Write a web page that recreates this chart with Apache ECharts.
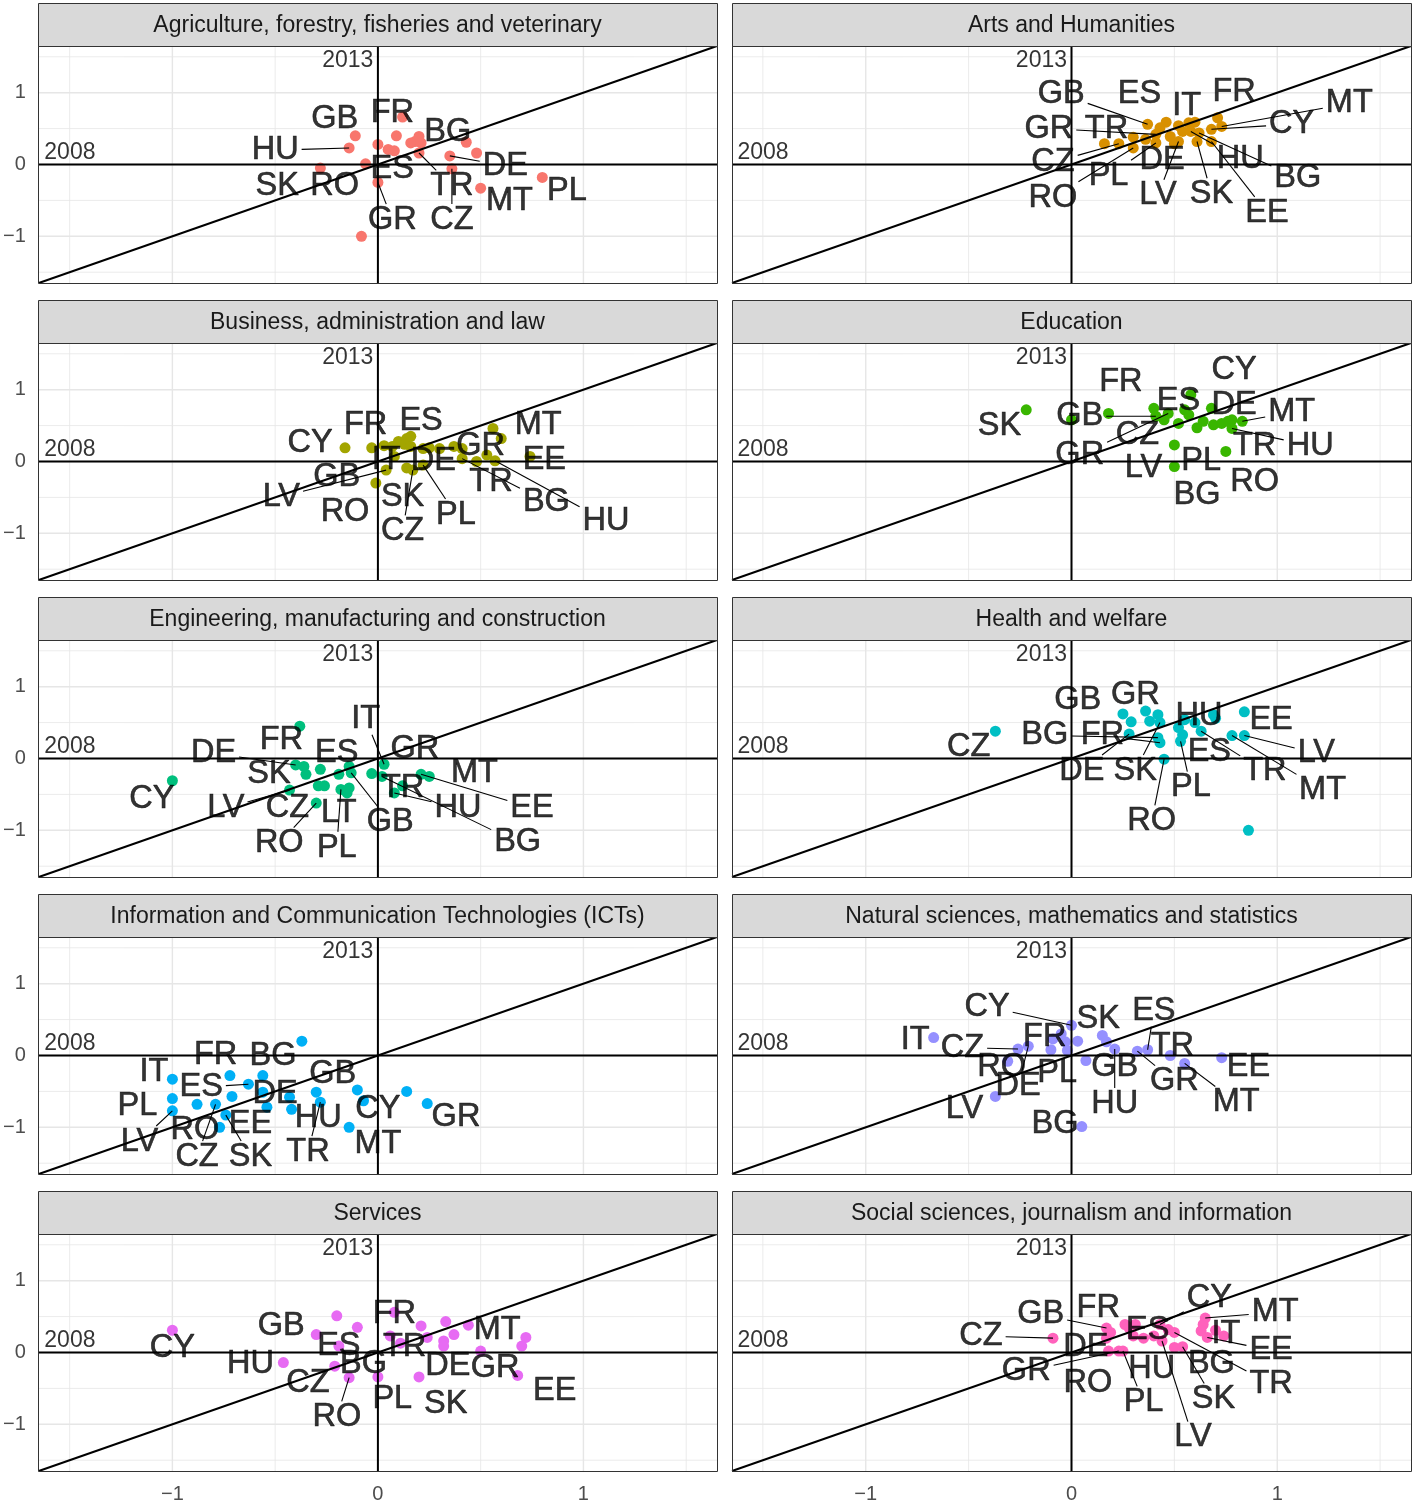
<!DOCTYPE html>
<html><head><meta charset="utf-8">
<script src="https://cdn.jsdelivr.net/npm/echarts@6/dist/echarts.min.js"></script>
<style>html,body{margin:0;padding:0;background:#fff}#c{width:1414px;height:1504px}</style>
</head><body><div id="c"></div>
<script>
// ---------------- DATA ----------------
const panelTitles = [
  "Agriculture, forestry, fisheries and veterinary",
  "Arts and Humanities",
  "Business, administration and law",
  "Education",
  "Engineering, manufacturing and construction",
  "Health and welfare",
  "Information and Communication Technologies (ICTs)",
  "Natural sciences, mathematics and statistics",
  "Services",
  "Social sciences, journalism and information"
];
const tickValues = [-1, 0, 1];
const axisLabels = ["2008", "2013"];

// points: [value 2008 (x), value 2013 (y), country code ('' = unlabelled)]
const agriculture = [[0.12,0.66,'FR'],[-0.11,0.40,'GB'],[0.09,0.40,''],[0.20,0.39,''],[0.43,0.31,'BG'],[0.18,0.32,''],[0.16,0.30,''],[0.21,0.30,''],[-0.14,0.23,'HU'],[0.00,0.28,''],[0.05,0.21,'ES'],[0.08,0.19,''],[0.20,0.16,'TR'],[0.48,0.16,''],[0.35,0.12,'DE'],[-0.28,-0.05,'SK'],[-0.06,0.01,'RO'],[0.00,-0.25,'GR'],[0.36,-0.06,'CZ'],[0.50,-0.33,'MT'],[0.80,-0.18,'PL'],[-0.08,-1.00,'']];
const arts = [[0.37,0.56,'GB'],[0.46,0.59,'ES'],[0.57,0.58,'IT'],[0.71,0.65,'FR'],[0.73,0.53,'MT'],[0.68,0.49,'CY'],[0.41,0.42,'GR'],[0.36,0.35,'TR'],[0.23,0.29,'CZ'],[0.50,0.29,'DE'],[0.58,0.46,'HU'],[0.41,0.30,'PL'],[0.62,0.44,'BG'],[0.30,0.23,'RO'],[0.52,0.32,'LV'],[0.61,0.32,'SK'],[0.68,0.32,'EE'],[0.16,0.29,''],[0.30,0.38,''],[0.43,0.51,''],[0.52,0.54,''],[0.60,0.59,''],[0.54,0.46,''],[0.48,0.39,'']];
const business = [[-0.16,0.19,'CY'],[-0.03,0.19,'GB'],[0.03,0.22,'FR'],[0.08,0.07,'IT'],[0.14,0.32,'ES'],[0.16,0.35,''],[0.10,0.28,''],[0.13,0.24,''],[0.16,0.21,''],[0.07,0.21,''],[0.04,-0.12,'LV'],[-0.01,-0.30,'RO'],[0.14,-0.09,'SK'],[0.17,-0.12,'CZ'],[0.22,-0.05,'PL'],[0.25,0.19,'DE'],[0.22,0.18,''],[0.30,0.18,''],[0.37,0.21,'GR'],[0.41,0.18,''],[0.48,0.00,'TR'],[0.41,0.04,'BG'],[0.57,0.01,'HU'],[0.56,0.46,'MT'],[0.60,0.32,''],[0.74,0.07,'EE'],[0.53,0.09,'']];
const education = [[-0.22,0.72,'SK'],[0.18,0.67,'FR'],[0.00,0.58,''],[0.40,0.74,''],[0.41,0.63,'GB'],[0.45,0.58,'CZ'],[0.47,0.67,'GR'],[0.52,0.53,''],[0.55,0.72,'ES'],[0.58,0.93,'CY'],[0.57,0.65,''],[0.61,0.47,'PL'],[0.64,0.56,''],[0.68,0.74,'DE'],[0.69,0.51,''],[0.73,0.53,''],[0.76,0.56,'TR'],[0.78,0.58,''],[0.78,0.46,'HU'],[0.83,0.56,'MT'],[0.50,0.23,'LV'],[0.50,-0.07,'BG'],[0.75,0.14,'RO']];
const engineering = [[-1.00,-0.31,'CY'],[-0.38,0.45,'FR'],[-0.40,-0.09,'DE'],[-0.36,-0.11,''],[-0.35,-0.22,'SK'],[-0.28,-0.15,''],[-0.29,-0.38,'CZ'],[-0.26,-0.38,''],[-0.30,-0.62,'RO'],[-0.43,-0.44,'LV'],[-0.19,-0.22,'ES'],[-0.18,-0.43,'PL'],[-0.15,-0.48,'LT'],[-0.14,-0.41,''],[-0.14,-0.11,''],[-0.13,-0.20,'GB'],[-0.03,-0.21,'GR'],[0.03,-0.08,'IT'],[0.02,-0.25,'BG'],[0.12,-0.38,'TR'],[0.08,-0.48,'HU'],[0.21,-0.22,'EE'],[0.25,-0.25,'MT']];
const health = [[-0.37,0.38,'CZ'],[0.25,0.62,'GB'],[0.29,0.51,''],[0.28,0.34,'DE'],[0.36,0.66,'GR'],[0.38,0.52,''],[0.42,0.61,''],[0.43,0.50,'SK'],[0.42,0.29,'BG'],[0.43,0.22,'FR'],[0.45,-0.01,'RO'],[0.52,0.43,''],[0.54,0.33,'ES'],[0.53,0.24,'PL'],[0.55,0.54,'HU'],[0.60,0.50,''],[0.63,0.38,'TR'],[0.69,0.61,''],[0.70,0.56,''],[0.78,0.32,'MT'],[0.84,0.65,'EE'],[0.84,0.32,'LV'],[0.86,-1.00,'']];
const ict = [[-0.37,0.20,''],[-1.00,-0.33,'IT'],[-1.00,-0.60,'PL'],[-1.00,-0.77,'LV'],[-0.88,-0.68,'RO'],[-0.79,-0.68,'CZ'],[-0.77,-1.00,''],[-0.74,-0.83,'SK'],[-0.72,-0.28,'FR'],[-0.71,-0.57,''],[-0.63,-0.40,'ES'],[-0.56,-0.28,'BG'],[-0.56,-0.51,''],[-0.54,-0.72,'EE'],[-0.43,-0.58,'DE'],[-0.42,-0.75,''],[-0.30,-0.51,'HU'],[-0.28,-0.65,'TR'],[-0.14,-1.00,'MT'],[-0.10,-0.48,'GB'],[-0.07,-0.63,'CY'],[0.14,-0.50,''],[0.24,-0.67,'GR']];
const natural = [[-0.67,0.25,'IT'],[-0.26,0.09,'CZ'],[-0.21,0.13,'DE'],[-0.31,-0.08,'RO'],[-0.37,-0.57,'LV'],[-0.09,0.23,'FR'],[-0.05,0.30,''],[0.00,0.42,'CY'],[-0.03,0.19,''],[-0.10,0.08,''],[-0.02,0.07,''],[0.03,0.20,''],[0.07,-0.07,'PL'],[0.05,-0.99,'BG'],[0.15,0.28,'SK'],[0.17,0.19,'GB'],[0.21,0.09,'HU'],[0.32,0.06,'GR'],[0.37,0.08,'ES'],[0.48,0.00,'TR'],[0.55,-0.11,'MT'],[0.73,-0.03,'EE']];
const services = [[-1.00,0.31,'CY'],[-0.46,-0.14,'HU'],[-0.30,0.25,'GB'],[-0.20,0.51,''],[-0.10,0.35,''],[-0.19,0.09,'ES'],[-0.21,-0.19,'CZ'],[-0.14,-0.35,'RO'],[0.00,-0.34,'PL'],[0.06,0.23,'BG'],[0.08,0.56,'FR'],[0.11,0.13,'TR'],[0.20,-0.34,'SK'],[0.21,0.37,''],[0.24,0.21,''],[0.32,0.16,''],[0.32,0.09,'DE'],[0.33,0.43,''],[0.37,0.25,''],[0.44,0.38,'MT'],[0.50,0.02,'GR'],[0.68,-0.32,'EE'],[0.70,0.09,''],[0.72,0.21,'']];
const social = [[-0.09,0.20,'CZ'],[0.17,0.34,'GB'],[0.19,0.28,''],[0.17,0.20,'DE'],[0.18,0.02,'RO'],[0.23,0.02,'GR'],[0.25,0.02,'PL'],[0.26,0.39,'FR'],[0.28,0.34,''],[0.31,0.39,''],[0.30,0.23,''],[0.35,0.20,'ES'],[0.40,0.23,''],[0.43,0.39,'CY'],[0.47,0.32,''],[0.50,0.28,'TR'],[0.44,0.16,'LV'],[0.50,0.07,'HU'],[0.54,0.08,'SK'],[0.64,0.39,''],[0.65,0.48,'MT'],[0.63,0.30,''],[0.66,0.21,'EE'],[0.70,0.31,'IT'],[0.74,0.23,'BG']];

// where each repelled label sits, in data units: [code, x, y]
const agricultureLabels = [['GB',-0.21,0.63],['FR',0.07,0.72],['BG',0.34,0.45],['HU',-0.50,0.20],['ES',0.07,-0.07],['DE',0.62,-0.02],['SK',-0.49,-0.30],['RO',-0.21,-0.30],['TR',0.36,-0.30],['MT',0.64,-0.51],['PL',0.92,-0.37],['GR',0.07,-0.77],['CZ',0.36,-0.77]];
const artsLabels = [['GB',-0.05,0.98],['ES',0.33,0.98],['IT',0.56,0.81],['FR',0.79,1.01],['MT',1.35,0.85],['GR',-0.11,0.50],['TR',0.17,0.50],['CY',1.07,0.56],['CZ',-0.09,0.03],['DE',0.44,0.06],['HU',0.82,0.07],['PL',0.18,-0.16],['BG',1.10,-0.19],['RO',-0.09,-0.46],['LV',0.42,-0.43],['SK',0.68,-0.41],['EE',0.95,-0.67]];
const businessLabels = [['FR',-0.06,0.51],['ES',0.21,0.57],['CY',-0.33,0.26],['MT',0.78,0.51],['GR',0.50,0.22],['IT',0.04,0.02],['DE',0.27,0.00],['EE',0.81,0.02],['GB',-0.20,-0.21],['LV',-0.47,-0.49],['TR',0.55,-0.29],['SK',0.12,-0.49],['RO',-0.16,-0.70],['BG',0.82,-0.56],['PL',0.38,-0.74],['HU',1.11,-0.83],['CZ',0.12,-0.97]];
const educationLabels = [['CY',0.79,1.27],['FR',0.24,1.10],['ES',0.52,0.84],['DE',0.79,0.79],['MT',1.07,0.69],['SK',-0.35,0.49],['GB',0.04,0.63],['CZ',0.32,0.37],['TR',0.89,0.22],['HU',1.16,0.22],['GR',0.04,0.09],['LV',0.35,-0.09],['PL',0.63,0.00],['RO',0.89,-0.28],['BG',0.61,-0.46]];
const engineeringLabels = [['IT',-0.06,0.55],['FR',-0.47,0.26],['DE',-0.80,0.07],['ES',-0.20,0.07],['GR',0.18,0.13],['SK',-0.53,-0.22],['MT',0.47,-0.20],['CY',-1.10,-0.56],['LV',-0.74,-0.69],['CZ',-0.44,-0.69],['LT',-0.19,-0.76],['TR',0.12,-0.41],['HU',0.39,-0.69],['EE',0.75,-0.69],['GB',0.06,-0.89],['RO',-0.48,-1.18],['PL',-0.20,-1.24],['BG',0.68,-1.17]];
const healthLabels = [['GB',0.03,0.82],['GR',0.31,0.88],['HU',0.62,0.59],['EE',0.97,0.54],['CZ',-0.50,0.16],['BG',-0.13,0.32],['FR',0.15,0.32],['LV',1.19,0.07],['DE',0.05,-0.17],['SK',0.31,-0.17],['ES',0.67,0.09],['TR',0.94,-0.18],['PL',0.58,-0.40],['MT',1.22,-0.44],['RO',0.39,-0.87]];
const ictLabels = [['FR',-0.79,0.00],['BG',-0.51,-0.01],['IT',-1.09,-0.23],['GB',-0.22,-0.26],['ES',-0.86,-0.44],['DE',-0.50,-0.54],['PL',-1.17,-0.71],['CY',0.00,-0.74],['HU',-0.29,-0.87],['GR',0.38,-0.86],['RO',-0.89,-1.04],['EE',-0.62,-0.96],['LV',-1.16,-1.20],['MT',0.00,-1.23],['CZ',-0.88,-1.41],['SK',-0.62,-1.41],['TR',-0.34,-1.34]];
const naturalLabels = [['CY',-0.41,0.68],['SK',0.13,0.51],['ES',0.40,0.62],['IT',-0.76,0.21],['FR',-0.13,0.26],['CZ',-0.53,0.11],['TR',0.49,0.13],['RO',-0.34,-0.16],['PL',-0.07,-0.25],['GB',0.21,-0.16],['EE',0.86,-0.16],['DE',-0.26,-0.43],['GR',0.50,-0.36],['LV',-0.52,-0.74],['HU',0.21,-0.67],['MT',0.80,-0.65],['BG',-0.08,-0.95]];
const servicesLabels = [['FR',0.08,0.53],['GB',-0.47,0.37],['MT',0.58,0.31],['CY',-1.00,0.06],['ES',-0.19,0.09],['TR',0.13,0.07],['HU',-0.62,-0.16],['BG',-0.07,-0.16],['DE',0.34,-0.19],['GR',0.57,-0.22],['CZ',-0.34,-0.42],['EE',0.86,-0.53],['PL',0.07,-0.65],['SK',0.33,-0.72],['RO',-0.20,-0.90]];
const socialLabels = [['CY',0.67,0.76],['GB',-0.15,0.53],['FR',0.13,0.62],['MT',0.99,0.56],['ES',0.37,0.31],['IT',0.75,0.26],['CZ',-0.44,0.23],['DE',0.07,0.07],['EE',0.97,0.03],['GR',-0.22,-0.26],['HU',0.39,-0.23],['BG',0.68,-0.16],['RO',0.08,-0.43],['TR',0.97,-0.44],['PL',0.35,-0.69],['SK',0.69,-0.65],['LV',0.59,-1.18]];

const panelPoints = [agriculture, arts, business, education, engineering, health, ict, natural, services, social];
const panelLabels = [agricultureLabels, artsLabels, businessLabels, educationLabels, engineeringLabels, healthLabels, ictLabels, naturalLabels, servicesLabels, socialLabels];

// ---------------- STYLE / LAYOUT ----------------
const colors = ['#F8766D','#D89000','#A3A500','#39B600','#00BF7D','#00BFC4','#00B0F6','#9590FF','#E76BF3','#FF62BC'];
const FONT = '"Liberation Sans", Arial, Helvetica, sans-serif';
const LABEL_SIZE = 32.5;
const LIM = 1.65;
const colLeft = [38, 732], plotW = 679, plotH = 237, rowStep = 297, plotTop0 = 46, stripH = 43;
const gridVals = [-1.5, -1, -0.5, 0, 0.5, 1, 1.5];

const mctx = document.createElement('canvas').getContext('2d');
mctx.font = LABEL_SIZE + 'px ' + FONT;
const textW = s => mctx.measureText(s).width;
const minus = v => v < 0 ? '\u2212' + Math.abs(v) : String(v);

const grids = [], xAxes = [], yAxes = [], series = [], graphics = [];
for (let i = 0; i < 10; i++) {
  const col = i % 2, row = Math.floor(i / 2);
  const left = colLeft[col], top = plotTop0 + rowStep * row;
  grids.push({left: left, top: top, width: plotW, height: plotH});
  const isBottom = row === 4, isLeft = col === 0;
  xAxes.push({gridIndex: i, type: 'value', min: -LIM, max: LIM,
    axisLine: {show: false}, splitLine: {show: false},
    axisTick: {show: isBottom, customValues: tickValues, length: 5, lineStyle: {color: '#333333', width: 1}},
    axisLabel: {show: isBottom, customValues: tickValues, formatter: minus, fontSize: 20, color: '#4D4D4D', margin: 13, fontFamily: FONT}});
  yAxes.push({gridIndex: i, type: 'value', min: -LIM, max: LIM,
    axisLine: {show: false}, splitLine: {show: false},
    axisTick: {show: isLeft, customValues: tickValues, length: 5, lineStyle: {color: '#333333', width: 1}},
    axisLabel: {show: isLeft, customValues: tickValues, formatter: minus, fontSize: 20, color: '#4D4D4D', margin: 13, fontFamily: FONT}});

  // background grid lines
  series.push({type: 'custom', xAxisIndex: i, yAxisIndex: i, silent: true, z: 1, clip: true,
    data: gridVals.map(v => [v, v]),
    renderItem: (params, api) => {
      const v = api.value(0);
      const major = Math.abs(v % 1) < 1e-9;
      const a = api.coord([v, -LIM]), b = api.coord([v, LIM]);
      const c = api.coord([-LIM, v]), d = api.coord([LIM, v]);
      const st = {stroke: '#E6E6E6', lineWidth: major ? 1.4 : 0.8};
      return {type: 'group', children: [
        {type: 'line', shape: {x1: a[0], y1: a[1], x2: b[0], y2: b[1]}, style: st},
        {type: 'line', shape: {x1: c[0], y1: c[1], x2: d[0], y2: d[1]}, style: st}]};
    }});

  // points
  series.push({type: 'scatter', xAxisIndex: i, yAxisIndex: i, z: 2, silent: true,
    symbolSize: 11, itemStyle: {color: colors[i], opacity: 1},
    data: panelPoints[i].map(p => [p[0], p[1], p[2]])});

  // reference lines: y=0, x=0, y=x
  const refLines = [[[-LIM, 0], [LIM, 0]], [[0, -LIM], [0, LIM]], [[-LIM, -LIM], [LIM, LIM]]];
  refLines.forEach(d => series.push({type: 'line', xAxisIndex: i, yAxisIndex: i, z: 3, silent: true,
    symbol: 'none', data: d, lineStyle: {color: '#000', width: 2}, animation: false}));

  // label leader segments
  const pts = panelPoints[i];
  const segData = panelLabels[i].map(l => {
    const p = pts.find(q => q[2] === l[0]);
    return [p[0], p[1], l[1], l[2], textW(l[0])];
  });
  series.push({type: 'custom', xAxisIndex: i, yAxisIndex: i, silent: true, z: 4, clip: true,
    data: segData,
    renderItem: (params, api) => {
      const p = api.coord([api.value(0), api.value(1)]);
      const c = api.coord([api.value(2), api.value(3)]);
      const hw = api.value(4) / 2 + 3, hh = LABEL_SIZE * 0.36 + 4;
      const dx = p[0] - c[0], dy = p[1] - c[1];
      if (Math.abs(dx) <= hw && Math.abs(dy) <= hh) return null;
      const t = Math.min(dx !== 0 ? hw / Math.abs(dx) : Infinity, dy !== 0 ? hh / Math.abs(dy) : Infinity);
      const e = [c[0] + dx * t, c[1] + dy * t];
      if (Math.hypot(p[0] - e[0], p[1] - e[1]) < 21) return null;
      return {type: 'line', shape: {x1: e[0], y1: e[1], x2: p[0], y2: p[1]}, style: {stroke: '#000', lineWidth: 1.1}};
    }});

  // country labels
  series.push({type: 'scatter', xAxisIndex: i, yAxisIndex: i, z: 5, silent: true,
    symbolSize: 1, itemStyle: {color: 'rgba(0,0,0,0)'},
    data: panelLabels[i].map(l => [l[1], l[2], l[0]]),
    label: {show: true, position: 'inside', formatter: p => p.value[2], fontSize: LABEL_SIZE,
      color: '#000', textBorderColor: '#000', textBorderWidth: 0.6, fontFamily: FONT}});

  // year annotations
  series.push({type: 'scatter', xAxisIndex: i, yAxisIndex: i, z: 5, silent: true,
    symbolSize: 1, itemStyle: {color: 'rgba(0,0,0,0)'},
    data: [[-LIM, 0, axisLabels[0]]],
    label: {show: true, position: [6, 0], align: 'left', verticalAlign: 'bottom', formatter: p => p.value[2],
      fontSize: 23, color: '#000', fontFamily: FONT}});
  series.push({type: 'scatter', xAxisIndex: i, yAxisIndex: i, z: 5, silent: true,
    symbolSize: 1, itemStyle: {color: 'rgba(0,0,0,0)'},
    data: [[0, LIM, axisLabels[1]]],
    label: {show: true, position: [-4, 4], align: 'right', verticalAlign: 'top', formatter: p => p.value[2],
      fontSize: 23, color: '#000', fontFamily: FONT}});

  // strip + border
  const sTop = top - stripH;
  graphics.push({type: 'rect', z: 100, shape: {x: left + 0.5, y: sTop + 0.5, width: plotW, height: stripH},
    style: {fill: '#D9D9D9', stroke: '#333333', lineWidth: 1}});
  graphics.push({type: 'text', z: 101, style: {text: panelTitles[i], x: left + plotW / 2, y: sTop + stripH / 2 + 1,
    textAlign: 'center', textVerticalAlign: 'middle', font: '23px ' + FONT, fill: '#1A1A1A'}});
  graphics.push({type: 'rect', z: 100, shape: {x: left + 0.5, y: top + 0.5, width: plotW, height: plotH},
    style: {fill: 'none', stroke: '#333333', lineWidth: 1}});
}

const chart = echarts.init(document.getElementById('c'), null, {renderer: 'canvas'});
chart.setOption({animation: false, backgroundColor: '#fff', grid: grids, xAxis: xAxes, yAxis: yAxes, series: series, graphic: graphics});
</script></body></html>
